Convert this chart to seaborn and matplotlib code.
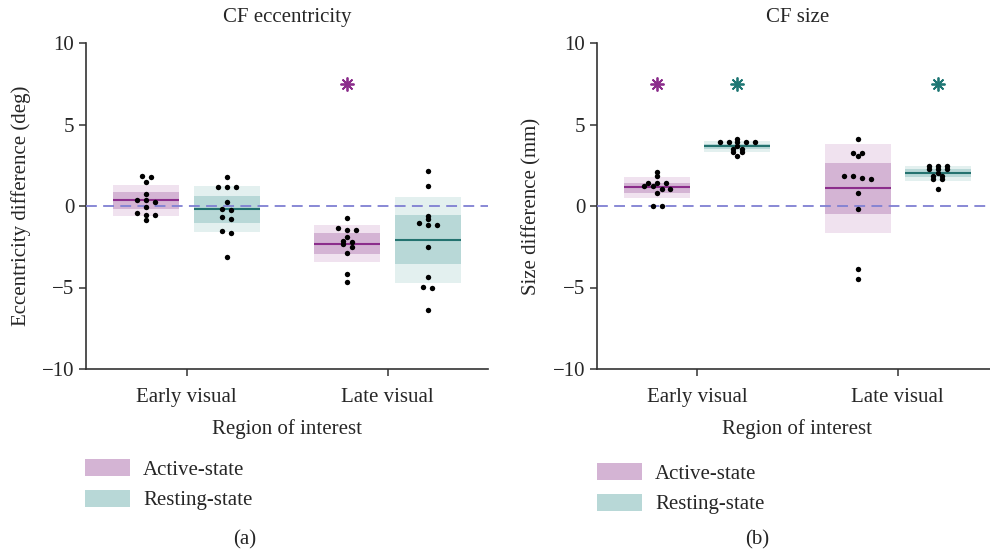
import numpy as np
import pandas as pd
import matplotlib
matplotlib.use("Agg")
import matplotlib.pyplot as plt
import seaborn as sns
from matplotlib.patches import Patch

# -------------------------
# Data
# -------------------------
regions = ["Early visual", "Late visual"]
states = ["Active-state", "Resting-state"]

# CF eccentricity differences (deg), one value per subject
ecc_early_active = [1.84, 1.78, 1.49, 0.72, 0.25, 0.39, 0.37, -0.08, -0.57, -0.55, -0.43, -0.84]
ecc_early_rest = [1.76, 1.18, 1.18, 1.15, 0.23, -0.20, -0.23, -0.67, -0.82, -1.52, -1.66, -3.11]
ecc_late_active = [-0.74, -1.45, -1.33, -1.45, -1.90, -2.15, -2.35, -2.23, -2.53, -2.87, -4.15, -4.64]
ecc_late_rest = [2.13, 1.23, -0.63, -0.82, -1.19, -1.04, -1.19, -2.50, -4.38, -4.97, -5.05, -6.38]

# CF size differences (mm)
size_early_active = [2.09, 1.85, 1.42, 1.42, 1.42, 1.22, 1.22, 1.04, 1.04, 0.81, 0.0, 0.0]
size_early_rest = [4.09, 3.90, 3.90, 3.90, 3.90, 3.90, 3.70, 3.49, 3.49, 3.29, 3.29, 3.07]
size_late_active = [4.09, 3.25, 3.25, 3.05, 1.65, 1.83, 1.73, 1.83, 0.81, -0.20, -3.86, -4.47]
size_late_rest = [2.48, 2.48, 2.48, 2.26, 2.26, 2.26, 2.05, 1.85, 1.85, 1.65, 1.65, 1.04]

# summary bands, order: early-active, early-resting, late-active, late-resting
ecc_median = [0.37, -0.20, -2.31, -2.07]
ecc_dark_lo = [-0.16, -1.02, -2.94, -3.54]
ecc_dark_hi = [0.86, 0.61, -1.66, -0.55]
ecc_light_lo = [-0.60, -1.58, -3.44, -4.70]
ecc_light_hi = [1.29, 1.23, -1.17, 0.55]

size_median = [1.14, 3.66, 1.10, 2.01]
size_dark_lo = [0.81, 3.49, -0.47, 1.79]
size_dark_hi = [1.44, 3.82, 2.62, 2.26]
size_light_lo = [0.50, 3.31, -1.63, 1.54]
size_light_hi = [1.77, 3.96, 3.78, 2.44]

# significance markers: (region index, state index)
ecc_sig = [(1, 0)]
size_sig = [(0, 0), (0, 1), (1, 1)]
sig_level = 7.5

# colours
light_cols = ["#f0e2ef", "#e3f0ef"]
dark_cols = ["#d4b4d4", "#b8d8d7"]
line_cols = ["#8b2d8b", "#23726f"]
star_cols = ["#8b2d8b", "#1f7774"]

DODGE = 0.2       # offset of each state from the region centre
STEP = 0.044      # horizontal spacing of dots sharing a row
ROW_TOL = 0.185   # values closer than this share a row


def spread(vals):
    # simple beeswarm: values close together are put side by side in a row
    order = np.argsort(vals)[::-1]
    offs = np.zeros(len(vals))
    row = []
    for idx in list(order) + [None]:
        if idx is not None and row and vals[row[0]] - vals[idx] < ROW_TOL:
            row.append(idx)
            continue
        n = len(row)
        for k, j in enumerate(row):
            offs[j] = (k - (n - 1) / 2) * STEP
        row = [idx]
    return offs


def make_df(groups):
    rows = []
    for (r, s), vals in groups.items():
        vals = np.array(vals)
        offs = spread(vals)
        for v, o in zip(vals, offs):
            x = r + (-DODGE if s == 0 else DODGE) + o
            rows.append({"region": regions[r], "state": states[s], "x": x, "value": v})
    return pd.DataFrame(rows)


ecc_df = make_df({(0, 0): ecc_early_active, (0, 1): ecc_early_rest,
                  (1, 0): ecc_late_active, (1, 1): ecc_late_rest})
size_df = make_df({(0, 0): size_early_active, (0, 1): size_early_rest,
                   (1, 0): size_late_active, (1, 1): size_late_rest})

sns.set_style("ticks")
plt.rcParams["font.family"] = ["Liberation Serif", "DejaVu Serif"]
FS = 15
plt.rcParams["font.size"] = FS

fig = plt.figure(figsize=(9.9, 5.53), dpi=100)
W, H = 990, 553
ax1 = fig.add_axes([86 / W, 1 - 369 / H, 402 / W, 326 / H])
ax2 = fig.add_axes([597 / W, 1 - 369 / H, 401 / W, 326 / H])


def draw_panel(ax, df, med, dlo, dhi, llo, lhi, sig, title, ylabel):
    for i in range(4):
        r, s = i // 2, i % 2
        x = r + (-DODGE if s == 0 else DODGE)
        ax.bar(x, lhi[i] - llo[i], bottom=llo[i], width=0.33,
               color=light_cols[s], linewidth=0, zorder=1)
        ax.bar(x, dhi[i] - dlo[i], bottom=dlo[i], width=0.33,
               color=dark_cols[s], linewidth=0, zorder=1.5)
        ax.hlines(med[i], x - 0.165, x + 0.165, color=line_cols[s], lw=1.5, zorder=2)
    ax.axhline(0, color="#7f7fd2", lw=1.3, dashes=(6, 3.5), zorder=3)
    sns.scatterplot(data=df, x="x", y="value", color="black", s=15,
                    linewidth=0, legend=False, ax=ax, zorder=4)
    for r, s in sig:
        x = r + (-DODGE if s == 0 else DODGE)
        ax.plot(x, sig_level, marker=(8, 2, 0), ms=10, mew=1.3,
                color=star_cols[s], ls="none", zorder=5)
    ax.set_xlim(-0.5, 1.5)
    ax.set_ylim(-10, 10)
    ax.set_yticks([-10, -5, 0, 5, 10])
    ax.set_xticks([0, 1])
    ax.set_xticklabels(regions)
    ax.set_xlabel("Region of interest", fontsize=FS, labelpad=8.5)
    ax.set_ylabel(ylabel, fontsize=FS, labelpad=8)
    ax.set_title(title, fontsize=FS, pad=15)
    ax.tick_params(labelsize=FS, length=5, width=1.1, color="#333333")
    ax.tick_params(axis="x", pad=9)
    sns.despine(ax=ax)
    for sp in ["left", "bottom"]:
        ax.spines[sp].set_color("#333333")
        ax.spines[sp].set_linewidth(1.2)


draw_panel(ax1, ecc_df, ecc_median, ecc_dark_lo, ecc_dark_hi, ecc_light_lo, ecc_light_hi,
           ecc_sig, "CF eccentricity", "Eccentricity difference (deg)")
draw_panel(ax2, size_df, size_median, size_dark_lo, size_dark_hi, size_light_lo, size_light_hi,
           size_sig, "CF size", "Size difference (mm)")

handles = [Patch(facecolor=dark_cols[0], edgecolor="none"),
           Patch(facecolor=dark_cols[1], edgecolor="none")]
for ax, (lx, ly) in [(ax1, (85, 459)), (ax2, (597, 463))]:
    ax.legend(handles, states, loc="upper left", bbox_to_anchor=(lx / W, 1 - ly / H),
              bbox_transform=fig.transFigure, frameon=False, fontsize=FS,
              handlelength=2.16, handleheight=0.85, handletextpad=0.62,
              labelspacing=0.5, borderpad=0, borderaxespad=0)

fig.text(245 / W, 1 - 540 / H, "(a)", ha="center", va="center", fontsize=FS)
fig.text(757 / W, 1 - 540 / H, "(b)", ha="center", va="center", fontsize=FS)

fig.savefig("out.png", dpi=100)
